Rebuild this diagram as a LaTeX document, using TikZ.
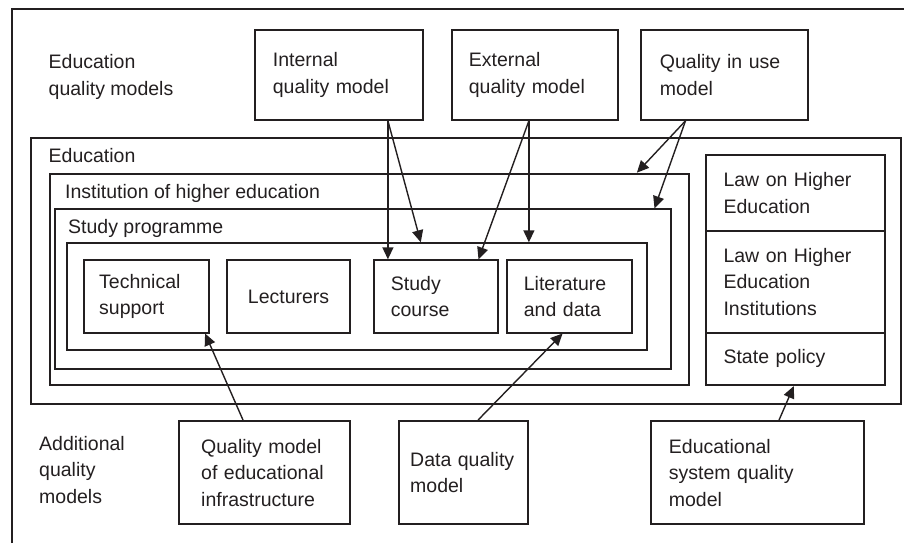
\documentclass[tikz,border=0pt]{standalone}
\usepackage{fontspec}
\setmainfont{Liberation Sans}
\usepackage{xcolor}
\usetikzlibrary{calc,arrows.meta}
\definecolor{ink}{RGB}{35,31,32}

\begin{document}
\begin{tikzpicture}[x=1pt,y=-1pt,color=ink,
  font=\fontsize{19.5}{26.5}\selectfont,
  box/.style={draw,line width=1.8pt,anchor=north west,align=left,inner ysep=0pt},
  lbl/.style={anchor=base west,inner sep=0pt,align=left},
  arr/.style={line width=1.4pt,-{Triangle[length=12pt,width=11pt]}}]

\useasboundingbox (0,0) rectangle (904,543);
\draw[line width=1.8pt] (12,543) -- (12,9) -- (904,9);

%%% models on top
\node[lbl] (EQM) at (48.5,95) {Education\\quality models};
\node[box][minimum height=90pt,text width=131.7pt,inner xsep=18pt] (INT) at (254,29) {Internal\\quality model};
\node[box][minimum height=90pt,text width=131.7pt,inner xsep=17pt] (EXT) at (451,29) {External\\quality model};
\node[box][minimum height=90pt,text width=128.7pt,inner xsep=19pt] (USE) at (640,29) {Quality in use\\model};

%%% nested containers
\node[box][minimum width=870pt,minimum height=266.6pt] (EDU) at (30,136.7) {};
\node[lbl] (EDUL) at (48.5,162) {Education};
\node[box][minimum width=639.6pt,minimum height=211.6pt] (INST) at (48.7,172.7) {};
\node[lbl] (INSTL) at (65,198.7) {Institution of higher education};
\node[box][minimum width=616pt,minimum height=160pt] (PROG) at (54,208.3) {};
\node[lbl] (PROGL) at (68,233) {Study programme};
\node[box][minimum width=580.3pt,minimum height=106.7pt] (ROW) at (65.7,242.3) {};

\node[box][minimum height=72.4pt,text width=94.4pt,inner xsep=15pt] (TECH) at (83.3,259.3) {Technical\\support};
\node[box][minimum height=72.4pt,text width=93.3pt,inner xsep=15pt,align=center] (LECT) at (226,259.3) {Lecturers};
\node[box][minimum height=72.4pt,text width=90pt,inner xsep=16.7pt] (COURSE) at (373.3,259.3) {Study\\course};
\node[box][minimum height=72.4pt,text width=90.7pt,inner xsep=17pt] (LIT) at (506,259.3) {Literature\\and data};

%%% legislation
\node[box][minimum height=76pt,text width=144pt,inner xsep=17.65pt] (LAW1) at (705,154) {Law on Higher\\Education};
\node[box][minimum height=101.7pt,text width=144pt,inner xsep=17.65pt] (LAW2) at (705,230) {Law on Higher\\Education\\Institutions};
\node[box][minimum height=52.6pt,text width=144pt,inner xsep=17.65pt] (STATE) at (705,331.7) {State policy};

%%% models at the bottom
\node[lbl] (AQM) at (39,503) {Additional\\quality\\models};
\node[box][minimum height=103.3pt,text width=126.7pt,inner xsep=22pt] (INFRA) at (178.3,420) {Quality model\\of educational\\infrastructure};
\node[box][minimum height=103.3pt,text width=107pt,inner xsep=11pt] (DATA) at (398.3,420) {Data quality\\model};
\node[box][minimum height=103.3pt,text width=177.3pt,inner xsep=18pt] (SYS) at (650,420) {Educational\\system quality\\model};

%%% arrows
\coordinate (INTo) at ($(INT.south west)!0.79!(INT.south east)$);
\coordinate (EXTo) at ($(EXT.south west)!0.465!(EXT.south east)$);
\coordinate (USEo) at ($(USE.south west)!0.27!(USE.south east)$);

\draw[arr] (INTo) -- (INTo |- COURSE.north);
\draw[arr] (INTo) -- ($(ROW.north west)!0.61!(ROW.north east)$);
\draw[arr] (EXTo) -- (EXTo |- ROW.north);
\draw[arr] (EXTo) -- ($(COURSE.north west)!0.84!(COURSE.north east)$);
\draw[arr] (USEo) -- ($(INST.north west)!0.917!(INST.north east)$);
\draw[arr] (USEo) -- ($(PROG.north west)!0.972!(PROG.north east)$);

\draw[arr] ($(INFRA.north west)!0.375!(INFRA.north east)$) -- ($(TECH.south west)!0.965!(TECH.south east)$);
\draw[arr] ($(DATA.north west)!0.61!(DATA.north east)$) -- ($(LIT.south west)!0.447!(LIT.south east)$);
\draw[arr] ($(SYS.north west)!0.6!(SYS.north east)$) -- ($(STATE.south west)!0.49!(STATE.south east)$);
\end{tikzpicture}
\end{document}
